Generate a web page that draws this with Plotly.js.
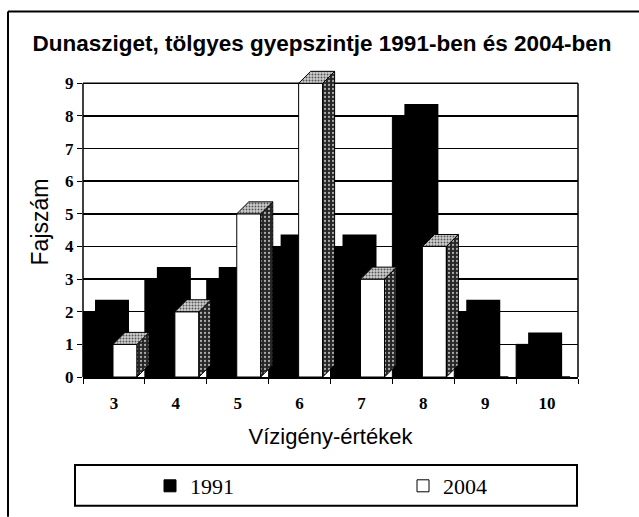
<!DOCTYPE html>
<html>
<head>
<meta charset="utf-8">
<script src="https://cdn.plot.ly/plotly-3.0.1.min.js"></script>
<style>
  html, body { margin: 0; padding: 0; background: #ffffff; }
  #chart { width: 639px; height: 517px; }
</style>
</head>
<body>
<div id="chart"></div>
<script>
// ---- data ----
const categories = ['3', '4', '5', '6', '7', '8', '9', '10'];
const values1991 = [2, 3, 3, 4, 4, 8, 2, 1];
const values2004 = [1, 2, 5, 9, 3, 4, 0, 0];
const seriesNames = ['1991', '2004'];
const yTicks = [0, 1, 2, 3, 4, 5, 6, 7, 8, 9];

// ---- layout geometry (pixels) ----
const W = 639, H = 517;
const plotL = 83, plotR = 578, wallTop = 83, plotB = 377;
const yMax = 9;
const yHead = 0.5;                        // extra room above the back wall for 3D tops
const pxPerCat = (plotR - plotL) / categories.length;
const pxPerUnit = (plotB - wallTop) / yMax;
const plotT = wallTop - yHead * pxPerUnit;
const depthPx = 12;
const dx = depthPx / pxPerCat;     // 3D depth in category units
const dy = depthPx / pxPerUnit;    // 3D depth in value units

const px2x = p => (p - plotL) / (plotR - plotL);
const px2y = p => (plotB - p) / (plotB - plotT);

const idx = categories.map((c, i) => i);

// black series: front face + depth block behind
const blackW = 34 / pxPerCat;
const traceBlackDepth = {
  type: 'bar', x: idx, y: values1991.map(v => v + dy),
  offset: -0.5 + dx, width: blackW,
  marker: { color: '#000000', line: { width: 0 } },
  showlegend: false, hoverinfo: 'skip'
};
const trace1991 = {
  type: 'bar', name: seriesNames[0], x: idx, y: values1991,
  offset: -0.5, width: blackW, legend: 'legend',
  marker: { color: '#000000', line: { color: '#000000', width: 1 } }
};
// white series front face
const whiteOff = 30 / pxPerCat - 0.5;
const whiteW = 24 / pxPerCat;
const trace2004 = {
  type: 'bar', name: seriesNames[1], x: idx, y: values2004,
  offset: whiteOff, width: whiteW, legend: 'legend2',
  marker: { color: '#ffffff', line: { color: '#000000', width: 1 } }
};

// white series side and top faces (built from the same values)
const sideX = [], sideY = [], topX = [], topY = [];
values2004.forEach((v, i) => {
  if (v <= 0) return;
  const a = i + whiteOff, b = a + whiteW;
  sideX.push(b, b, b + dx, b + dx, b, null);
  sideY.push(0, v, v + dy, dy, 0, null);
  topX.push(a, b, b + dx, a + dx, a, null);
  topY.push(v, v, v + dy, v + dy, v, null);
});
const traceSide = {
  type: 'scatter', mode: 'lines', x: sideX, y: sideY, fill: 'toself',
  fillcolor: '#3a3a3a',
  fillpattern: { shape: '.', bgcolor: '#262626', fgcolor: '#aaaaaa', size: 4, solidity: 0.25 },
  line: { color: '#000000', width: 1 },
  showlegend: false, hoverinfo: 'skip'
};
const traceTop = {
  type: 'scatter', mode: 'lines', x: topX, y: topY, fill: 'toself',
  fillcolor: '#b0b0b0',
  fillpattern: { shape: '.', bgcolor: '#d0d0d0', fgcolor: '#555555', size: 3, solidity: 0.35 },
  line: { color: '#000000', width: 1 },
  showlegend: false, hoverinfo: 'skip'
};

const legendFont = { family: 'Liberation Serif, Times New Roman, serif', size: 22, color: '#000000' };
const frameLine = { color: '#000000', width: 1.5 };

const layout = {
  width: W, height: H,
  margin: { l: plotL, r: W - plotR, t: plotT, b: H - plotB, pad: 0 },
  paper_bgcolor: '#ffffff', plot_bgcolor: 'rgba(0,0,0,0)',
  barmode: 'overlay',
  showlegend: true,
  title: {
    text: 'Dunasziget, tölgyes gyepszintje 1991-ben és 2004-ben',
    font: { family: 'Liberation Sans, Arial, sans-serif', size: 22.5, color: '#000000', weight: 'bold' },
    x: 322 / W, xanchor: 'center', xref: 'container',
    y: 1 - 43 / H, yanchor: 'middle', yref: 'container'
  },
  xaxis: {
    type: 'linear', range: [-0.5, categories.length - 0.5],
    tickvals: idx, ticktext: categories,
    ticks: '', showgrid: false, zeroline: false,
    showline: true, linecolor: '#000000', linewidth: 1.5, mirror: false,
    tickfont: { family: 'Liberation Serif, Times New Roman, serif', size: 17, color: '#000000', weight: 'bold' },
    ticklabelstandoff: 10,
    minor: { ticks: 'outside', ticklen: 5, tickcolor: '#000000', tick0: -0.5, dtick: 1, showgrid: false },
    title: {
      text: 'Vízigény-értékek', standoff: 16,
      font: { family: 'Liberation Sans, Arial, sans-serif', size: 22, color: '#000000' }
    },
    automargin: false, fixedrange: true
  },
  yaxis: {
    range: [0, yMax + yHead], tickvals: yTicks,
    ticks: 'outside', ticklen: 5, tickcolor: '#000000',
    showgrid: true, gridcolor: '#000000', gridwidth: 1.5,
    zeroline: false, showline: false,
    tickfont: { family: 'Liberation Serif, Times New Roman, serif', size: 17, color: '#000000', weight: 'bold' },
    title: {
      text: 'Fajszám', standoff: 10,
      font: { family: 'Liberation Sans, Arial, sans-serif', size: 23, color: '#000000' }
    },
    automargin: false, fixedrange: true
  },
  legend: {
    orientation: 'h',
    x: px2x(150), xanchor: 'left',
    y: 1 - 486 / H, yanchor: 'middle', yref: 'container',
    bgcolor: 'rgba(0,0,0,0)', borderwidth: 0, font: legendFont
  },
  legend2: {
    orientation: 'h',
    x: px2x(403), xanchor: 'left',
    y: 1 - 486 / H, yanchor: 'middle', yref: 'container',
    bgcolor: 'rgba(0,0,0,0)', borderwidth: 0, font: legendFont
  },
  shapes: [
    // back wall frame: left, top, right edges
    { type: 'line', xref: 'paper', yref: 'y', x0: 0, x1: 0, y0: 0, y1: yMax, line: frameLine, layer: 'below' },
    { type: 'line', xref: 'paper', yref: 'y', x0: 0, x1: 1, y0: yMax, y1: yMax, line: frameLine, layer: 'below' },
    { type: 'line', xref: 'paper', yref: 'y', x0: 1, x1: 1, y0: 0, y1: yMax, line: frameLine, layer: 'below' },
    // legend box
    { type: 'rect', xref: 'paper', yref: 'paper',
      x0: px2x(75), x1: px2x(577), y0: px2y(465), y1: px2y(506),
      line: { color: '#000000', width: 2 }, fillcolor: 'rgba(0,0,0,0)' },
    // outer frame (left and top edges visible in the reference)
    { type: 'line', xref: 'paper', yref: 'paper',
      x0: px2x(8), x1: px2x(8), y0: px2y(11), y1: px2y(517),
      line: { color: '#000000', width: 2 } },
    { type: 'line', xref: 'paper', yref: 'paper',
      x0: px2x(8), x1: px2x(639), y0: px2y(11), y1: px2y(11),
      line: { color: '#000000', width: 2 } }
  ]
};

Plotly.newPlot('chart',
  [traceBlackDepth, trace1991, trace2004, traceSide, traceTop],
  layout, { staticPlot: true, displayModeBar: false });
</script>
</body>
</html>
